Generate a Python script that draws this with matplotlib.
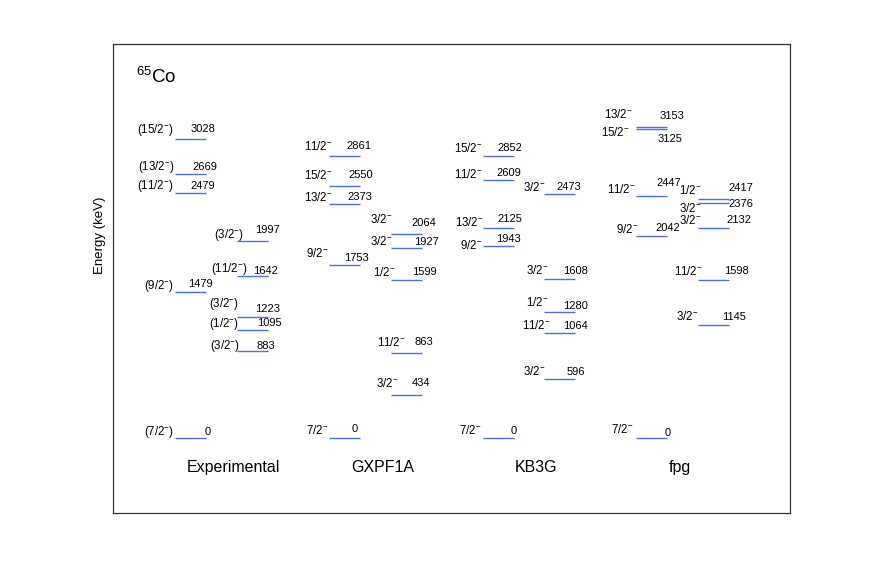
import matplotlib
matplotlib.use('Agg')
import matplotlib.pyplot as plt

plt.rcParams['font.family'] = ['Liberation Sans', 'DejaVu Sans']
plt.rcParams['mathtext.fontset'] = 'custom'
plt.rcParams['mathtext.rm'] = 'Liberation Sans'
plt.rcParams['mathtext.it'] = 'Liberation Sans:italic'
plt.rcParams['mathtext.bf'] = 'Liberation Sans:bold'

# ---------------- data ----------------
schemes = ['Experimental', 'GXPF1A', 'KB3G', 'fpg']

exp_energy = [0, 1479, 2479, 2669, 3028, 883, 1095, 1223, 1642, 1997]
exp_spin = [r'(7/2$^{-}$)', r'(9/2$^{-}$)', r'(11/2$^{-}$)', r'(13/2$^{-}$)', r'(15/2$^{-}$)',
            r'(3/2$^{-}$)', r'(1/2$^{-}$)', r'(3/2$^{-}$)', r'(11/2$^{-}$)', r'(3/2$^{-}$)']

gx_energy = [0, 1753, 2373, 2550, 2861, 434, 863, 1599, 1927, 2064]
gx_spin = [r'7/2$^{-}$', r'9/2$^{-}$', r'13/2$^{-}$', r'15/2$^{-}$', r'11/2$^{-}$',
           r'3/2$^{-}$', r'11/2$^{-}$', r'1/2$^{-}$', r'3/2$^{-}$', r'3/2$^{-}$']

kb_energy = [0, 1943, 2125, 2609, 2852, 596, 1064, 1280, 1608, 2473]
kb_spin = [r'7/2$^{-}$', r'9/2$^{-}$', r'13/2$^{-}$', r'11/2$^{-}$', r'15/2$^{-}$',
           r'3/2$^{-}$', r'11/2$^{-}$', r'1/2$^{-}$', r'3/2$^{-}$', r'3/2$^{-}$']

fpg_energy = [0, 2042, 2447, 3125, 3153, 1145, 1598, 2132, 2376, 2417]
fpg_spin = [r'7/2$^{-}$', r'9/2$^{-}$', r'11/2$^{-}$', r'15/2$^{-}$', r'13/2$^{-}$',
            r'3/2$^{-}$', r'11/2$^{-}$', r'3/2$^{-}$', r'3/2$^{-}$', r'1/2$^{-}$']

energies = [exp_energy, gx_energy, kb_energy, fpg_energy]
spins = [exp_spin, gx_spin, kb_spin, fpg_spin]

# ---------------- layout ----------------
# sub-column of each level (0 = left, 1 = right)
sides = [[0, 0, 0, 0, 0, 1, 1, 1, 1, 1]] * 4
# label offsets in pixels: (spin right-edge dx, spin up, energy left-edge dx, energy up)
offsets = [
    [(-1, 7, 30, 7), (-1, 7, 13, 9), (-1, 8, 15, 8), (0, 8.5, 17, 8.5), (-1, 10, 16, 11),
     (3, 6, 20, 6), (2, 7, 20, 8), (2, 14, 18, 9), (11, 8, 16, 6), (7, 7, 18, 12)],
    [(-1, 8, 23, 10), (-1, 12, 15, 8), (4, 7, 18, 8), (4, 11, 19, 12), (4, 9.5, 17, 10.5),
     (8, 12, 21, 13), (15, 11, 24, 12), (5, 8, 21, 9), (2, 7, 23, 7), (2, 15, 21, 12)],
    [(-1, 8, 28, 8), (0, 1, 13, 8), (1, 6, 15, 10), (0, 6, 14, 8), (0, 8, 15, 9),
     (1, 8, 22, 8), (6, 8, 19, 8), (4, 10, 19, 7), (4, 9, 19, 9), (1, 7, 12, 8)],
    [(-3, 9, 29, 6), (2, 7.5, 19, 9.5), (0, 7.5, 20, 14.5), (-6, -3, 22, -9), (-3, 13, 24, 12),
     (1, 9, 24, 9), (5, 9, 26, 10), (4, 7.5, 29, 8.5), (4, -4.5, 31, 0.5), (4, 9, 31, 12)],
]
col_x0 = [62, 216, 369.7, 523]
sub_dx = 61.7
line_len = 31
title_x = [120, 270, 423, 567]

W, H = 872, 577
ax_l, ax_r, ax_t, ax_b = 113, 790, 44, 513
y0_px = 438.3          # pixel row of E = 0
scale = 0.09884        # pixels per keV

def px2E(ypx):
    return (y0_px - ypx) / scale

line_color = '#4f6fe6'

fig = plt.figure(figsize=(W / 100, H / 100), dpi=100)
ax = fig.add_axes([ax_l / W, 1 - ax_b / H, (ax_r - ax_l) / W, (ax_b - ax_t) / H])
ax.set_xlim(0, ax_r - ax_l)
ax.set_ylim(px2E(ax_b), px2E(ax_t))
ax.set_xticks([])
ax.set_yticks([])
for s in ax.spines.values():
    s.set_color('#333333')
    s.set_linewidth(0.9)

for k in range(4):
    for E, sp, side, off in zip(energies[k], spins[k], sides[k], offsets[k]):
        x0 = col_x0[k] + side * sub_dx
        ax.hlines(E, x0, x0 + line_len, color=line_color, lw=1.0)
        sdx, sup, edx, eup = off
        ax.annotate(sp, xy=(x0, E), xytext=(sdx, sup - 4), textcoords='offset pixels',
                    ha='right', va='baseline', fontsize=8.3)
        ax.annotate(str(E), xy=(x0, E), xytext=(edx, eup - 4), textcoords='offset pixels',
                    ha='left', va='baseline', fontsize=8)
    ax.text(title_x[k], px2E(472), schemes[k], ha='center', va='baseline', fontsize=11.5)

ax.text(23, px2E(83), r'$^{65}$Co', ha='left', va='baseline', fontsize=13.5)
fig.text(100 / W, 1 - 235 / H, 'Energy (keV)', rotation=90, ha='center', va='center', fontsize=9.5)

fig.savefig('out.png', dpi=100)
